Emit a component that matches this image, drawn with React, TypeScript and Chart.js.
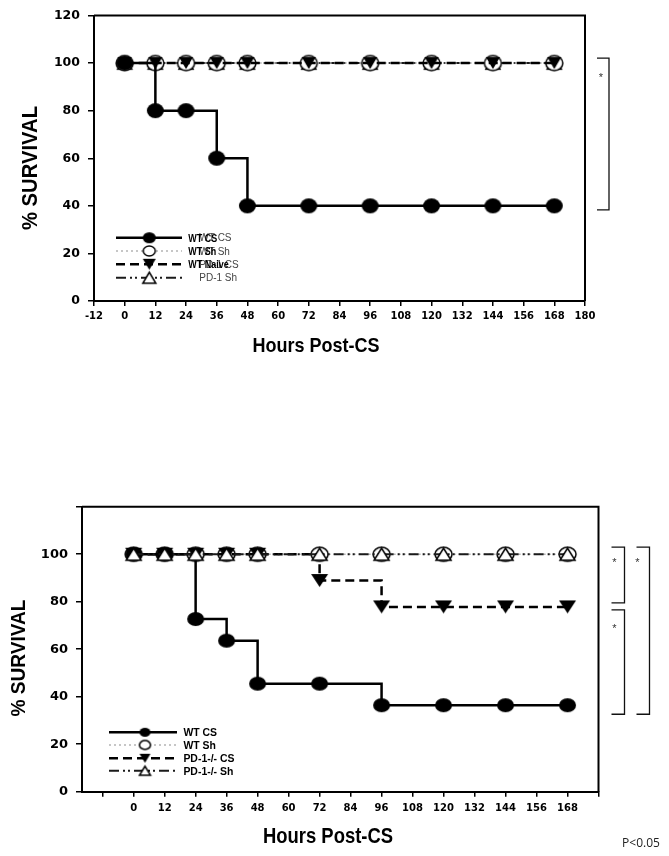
import React, { useEffect, useRef } from 'react';
import { Chart, registerables } from 'chart.js';

Chart.register(...registerables);

// ---------- data ----------
const HOURS = [0, 12, 24, 36, 48, 72, 96, 120, 144, 168];

const TOP_WT_CS = [100, 80, 80, 60, 40, 40, 40, 40, 40, 40];
const TOP_WT_SH = [100, 100, 100, 100, 100, 100, 100, 100, 100, 100];
const TOP_WT_NAIVE = [100, 100, 100, 100, 100, 100, 100, 100, 100, 100];
const TOP_PD1_SH = [100, 100, 100, 100, 100, 100, 100, 100, 100, 100];

const BOT_WT_CS = [100, 100, 72.7, 63.6, 45.5, 45.5, 36.4, 36.4, 36.4, 36.4];
const BOT_WT_SH = [100, 100, 100, 100, 100, 100, 100, 100, 100, 100];
const BOT_PD1_CS = [100, 100, 100, 100, 100, 88.9, 77.8, 77.8, 77.8, 77.8];
const BOT_PD1_SH = [100, 100, 100, 100, 100, 100, 100, 100, 100, 100];

const TOP_X_TICKS = [-12, 0, 12, 24, 36, 48, 60, 72, 84, 96, 108, 120, 132, 144, 156, 168, 180];
const TOP_X_LABELED = [-12, 0, 12, 24, 36, 48, 60, 72, 84, 96, 108, 120, 132, 144, 156, 168, 180];
const BOT_X_TICKS = [-12, 0, 12, 24, 36, 48, 60, 72, 84, 96, 108, 120, 132, 144, 156, 168, 180];
const BOT_X_LABELED = [0, 12, 24, 36, 48, 60, 72, 84, 96, 108, 120, 132, 144, 156, 168];
const Y_TICKS = [0, 20, 40, 60, 80, 100, 120];
const TOP_Y_LABELED = [0, 20, 40, 60, 80, 100, 120];
const BOT_Y_LABELED = [0, 20, 40, 60, 80, 100];

const TOP_LEGEND_BOLD = ['WT CS', 'WT Sh', 'WT Naive', ''];
const TOP_LEGEND_SMALL = ['WT CS', 'WT Sh', 'PD-1 CS', 'PD-1 Sh'];
const BOT_LEGEND = ['WT CS', 'WT Sh', 'PD-1-/- CS', 'PD-1-/- Sh'];

// ---------- styles ----------
const LINE = {
  solid: { color: '#000', width: 2.5, dash: [] as number[] },
  dotted: { color: '#b4b4b4', width: 1.5, dash: [2, 3] },
  dashed: { color: '#000', width: 2.5, dash: [9, 5] },
  dashdot: { color: '#1a1a1a', width: 2, dash: [10, 4, 2, 3, 2, 4] },
};

const FONT = '"Liberation Sans", Arial, sans-serif';
const TICK_FONT = '"DejaVu Sans", sans-serif';

function marker(kind: string, w: number, h: number, lw = 1.5) {
  const pad = 2;
  const c = document.createElement('canvas');
  c.width = Math.ceil(w + pad * 2);
  c.height = Math.ceil(h + pad * 2);
  const ctx = c.getContext('2d')!;
  const cx = c.width / 2;
  const cy = c.height / 2;
  ctx.beginPath();
  if (kind === 'dot' || kind === 'ring') {
    ctx.ellipse(cx, cy, w / 2, h / 2, 0, 0, Math.PI * 2);
  } else if (kind === 'down') {
    ctx.moveTo(cx - w / 2, cy - h / 2);
    ctx.lineTo(cx + w / 2, cy - h / 2);
    ctx.lineTo(cx, cy + h / 2);
    ctx.closePath();
  } else {
    ctx.moveTo(cx - w / 2, cy + h / 2);
    ctx.lineTo(cx + w / 2, cy + h / 2);
    ctx.lineTo(cx, cy - h / 2);
    ctx.closePath();
  }
  if (kind === 'dot' || kind === 'down') {
    ctx.fillStyle = '#000';
    ctx.fill();
  } else {
    ctx.fillStyle = '#fff';
    ctx.fill();
    ctx.lineWidth = lw;
    ctx.strokeStyle = '#000';
    ctx.stroke();
  }
  return c;
}

function drawText(
  ctx: CanvasRenderingContext2D,
  text: string,
  x: number,
  y: number,
  size: number,
  opts: { bold?: boolean; width?: number; sx?: number; rotate?: boolean; align?: 'left' | 'center'; color?: string; family?: string } = {}
) {
  ctx.save();
  ctx.font = `${opts.bold === false ? '' : 'bold '}${size}px ${opts.family || FONT}`;
  const w = ctx.measureText(text).width;
  const sx = opts.width ? opts.width / w : opts.sx || 1;
  ctx.translate(x, y);
  if (opts.rotate) ctx.rotate(-Math.PI / 2);
  ctx.scale(sx, 1);
  ctx.fillStyle = opts.color || '#000';
  ctx.textAlign = opts.align || 'center';
  ctx.textBaseline = 'alphabetic';
  ctx.fillText(text, 0, size * 0.716 / 2);
  ctx.restore();
}

function legendRow(ctx: CanvasRenderingContext2D, x0: number, x1: number, mx: number, y: number, st: any, img: HTMLCanvasElement) {
  ctx.save();
  ctx.setLineDash(st.dash);
  ctx.strokeStyle = st.color;
  ctx.lineWidth = st.width;
  ctx.beginPath();
  ctx.moveTo(x0, y);
  ctx.lineTo(x1, y);
  ctx.stroke();
  ctx.restore();
  ctx.drawImage(img, mx - img.width / 2, y - img.height / 2);
}

function bracket(ctx: CanvasRenderingContext2D, xArm: number, xV: number, y0: number, y1: number) {
  ctx.save();
  ctx.strokeStyle = '#111';
  ctx.lineWidth = 1.3;
  ctx.beginPath();
  ctx.moveTo(xArm, y0);
  ctx.lineTo(xV, y0);
  ctx.lineTo(xV, y1);
  ctx.lineTo(xArm, y1);
  ctx.stroke();
  ctx.restore();
}

function star(ctx: CanvasRenderingContext2D, x: number, y: number) {
  drawText(ctx, '*', x, y + 2, 11, { bold: false, color: '#333' });
}

function boxPlugin(id: string) {
  return {
    id,
    beforeDatasetsDraw(chart: any) {
      const { ctx, chartArea: a } = chart;
      ctx.save();
      ctx.strokeStyle = '#000';
      ctx.lineWidth = 2;
      ctx.beginPath();
      ctx.moveTo(a.left, a.top);
      ctx.lineTo(a.right, a.top);
      ctx.lineTo(a.right, a.bottom);
      ctx.stroke();
      ctx.restore();
    },
  };
}

function xScale(ticks: number[], labeled: number[], min: number, max: number, height: number, size: number, pad: number) {
  return {
    type: 'linear',
    min,
    max,
    afterBuildTicks: (s: any) => {
      s.ticks = ticks.map((v) => ({ value: v }));
    },
    afterFit: (s: any) => {
      s.height = height;
    },
    ticks: {
      autoSkip: false,
      maxRotation: 0,
      minRotation: 0,
      padding: pad,
      color: '#000',
      font: { family: TICK_FONT, weight: 'bold', size },
      callback: (v: number) => (labeled.includes(v) ? String(v) : ''),
    },
    grid: { display: true, drawOnChartArea: false, drawTicks: true, tickLength: 5, color: '#000', lineWidth: 1.5 },
    border: { display: true, color: '#000', width: 2 },
  };
}

function yScale(labeled: number[], width: number, size: number) {
  return {
    type: 'linear',
    min: 0,
    max: 120,
    afterBuildTicks: (s: any) => {
      s.ticks = Y_TICKS.map((v) => ({ value: v }));
    },
    afterFit: (s: any) => {
      s.width = width;
    },
    ticks: {
      padding: 8,
      color: '#000',
      font: { family: TICK_FONT, weight: 'bold', size },
      callback: (v: number) => (labeled.includes(v) ? String(v) : ''),
    },
    grid: { display: true, drawOnChartArea: false, drawTicks: true, tickLength: 6, color: '#000', lineWidth: 1.5 },
    border: { display: true, color: '#000', width: 2 },
  };
}

function ds(label: string, ys: number[], st: any, img: HTMLCanvasElement, order: number) {
  return {
    label,
    data: HOURS.map((h, i) => ({ x: h, y: ys[i] })),
    borderColor: st.color,
    backgroundColor: st.color,
    borderWidth: st.width,
    borderDash: st.dash,
    stepped: 'before',
    pointStyle: img,
    pointRadius: 8,
    pointHoverRadius: 8,
    fill: false,
    order,
    clip: false,
  };
}

export default function App() {
  const topRef = useRef<HTMLCanvasElement>(null);
  const botRef = useRef<HTMLCanvasElement>(null);

  useEffect(() => {
    const M = {
      tDot: marker('dot', 17, 15),
      tRing: marker('ring', 17, 15),
      tDown: marker('down', 14, 12),
      tUp: marker('up', 14, 12),
      bDot: marker('dot', 17, 14),
      bRing: marker('ring', 17, 14),
      bDown: marker('down', 17, 13),
      bUp: marker('up', 15, 12),
      lgTDot: marker('dot', 13, 11),
      lgTRing: marker('ring', 12, 10),
      lgTDown: marker('down', 13, 11),
      lgTUp: marker('up', 13, 11),
      lgBDot: marker('dot', 11, 9),
      lgBRing: marker('ring', 11, 9),
      lgBDown: marker('down', 11, 9),
      lgBUp: marker('up', 11, 9),
    };

    const topDecor = {
      id: 'topDecor',
      afterDraw(chart: any) {
        const { ctx, chartArea: a, scales } = chart;
        const y = scales.y;
        drawText(ctx, '% SURVIVAL', 29.5, 168, 22, { width: 124, rotate: true });
        drawText(ctx, 'Hours Post-CS', 316, 344, 21, { width: 127 });
        // legend
        const rows = [237.7, 251, 264.3, 277.7];
        const styles = [LINE.solid, LINE.dotted, LINE.dashed, LINE.dashdot];
        const imgs = [M.lgTDot, M.lgTRing, M.lgTDown, M.lgTUp];
        rows.forEach((ry, i) => {
          legendRow(ctx, 116, 182, 149.3, ry, styles[i], imgs[i]);
          drawText(ctx, TOP_LEGEND_SMALL[i], 199.3, ry, 10, { bold: false, align: 'left', color: '#444' });
          if (TOP_LEGEND_BOLD[i]) drawText(ctx, TOP_LEGEND_BOLD[i], 188.3, ry, 11.5, { align: 'left', sx: 0.78 });
        });
        // bracket
        const y0 = y.getPixelForValue(100) - 5;
        const y1 = y.getPixelForValue(40) + 4;
        bracket(ctx, a.right + 12, a.right + 24, y0, y1);
        star(ctx, a.right + 16, y.getPixelForValue(100) + 12);
      },
    };

    const botDecor = {
      id: 'botDecor',
      afterDraw(chart: any) {
        const { ctx, chartArea: a, scales } = chart;
        const y = scales.y;
        drawText(ctx, '% SURVIVAL', 17, 258, 21, { width: 117, rotate: true });
        drawText(ctx, 'Hours Post-CS', 328, 435.5, 22, { width: 130 });
        drawText(ctx, 'P<0.05', 641, 443, 12, { bold: false, color: '#222', family: '"Open Sans", "Noto Sans", sans-serif' });
        const rows = [332.3, 345, 358.3, 370.7];
        const styles = [LINE.solid, LINE.dotted, LINE.dashed, LINE.dashdot];
        const imgs = [M.lgBDot, M.lgBRing, M.lgBDown, M.lgBUp];
        rows.forEach((ry, i) => {
          legendRow(ctx, 109, 177, 145, ry, styles[i], imgs[i]);
          drawText(ctx, BOT_LEGEND[i], 183.4, ry, 11, { align: 'left', sx: 0.95 });
        });
        const y100 = y.getPixelForValue(100);
        const y78 = y.getPixelForValue(77.8);
        const y36 = y.getPixelForValue(36.4);
        bracket(ctx, a.right + 13, a.right + 26, y100 - 7, y78 - 4);
        bracket(ctx, a.right + 13, a.right + 26, y78 + 3, y36 + 9);
        bracket(ctx, a.right + 38, a.right + 51, y100 - 7, y36 + 9);
        star(ctx, a.right + 16, y100 + 6);
        star(ctx, a.right + 16, y78 + 19);
        star(ctx, a.right + 39, y100 + 6);
      },
    };

    const top = new Chart(topRef.current!, {
      type: 'line',
      data: {
        datasets: [
          ds('WT CS', TOP_WT_CS, LINE.solid, M.tDot, 0),
          ds('WT Sh', TOP_WT_SH, LINE.dotted, M.tRing, 2),
          ds('WT Naive', TOP_WT_NAIVE, LINE.dashed, M.tDown, 1),
          ds('PD-1 Sh', TOP_PD1_SH, LINE.dashdot, M.tUp, 3),
        ],
      } as any,
      options: {
        animation: false,
        responsive: false,
        maintainAspectRatio: false,
        layout: { padding: { left: 0, top: 14, right: 84, bottom: 0 } },
        plugins: { legend: { display: false }, tooltip: { enabled: false }, title: { display: false } },
        scales: {
          x: xScale(TOP_X_TICKS, TOP_X_LABELED, -12, 180, 99, 10, 4),
          y: yScale(TOP_Y_LABELED, 94, 12.5),
        } as any,
      },
      plugins: [boxPlugin('topBox'), topDecor],
    } as any);

    const bot = new Chart(botRef.current!, {
      type: 'line',
      data: {
        datasets: [
          ds('WT CS', BOT_WT_CS, LINE.solid, M.bDot, 2),
          ds('WT Sh', BOT_WT_SH, LINE.dotted, M.bRing, 3),
          ds('PD-1-/- CS', BOT_PD1_CS, LINE.dashed, M.bDown, 1),
          ds('PD-1-/- Sh', BOT_PD1_SH, LINE.dashdot, M.bUp, 0),
        ],
      } as any,
      options: {
        animation: false,
        responsive: false,
        maintainAspectRatio: false,
        layout: { padding: { left: 0, top: 106.7, right: 70.5, bottom: 0 } },
        plugins: { legend: { display: false }, tooltip: { enabled: false }, title: { display: false } },
        scales: {
          x: xScale(BOT_X_TICKS, BOT_X_LABELED, -20, 180, 64.3, 10, 6),
          y: yScale(BOT_Y_LABELED, 82, 13),
        } as any,
      },
      plugins: [boxPlugin('botBox'), botDecor],
    } as any);

    return () => {
      top.destroy();
      bot.destroy();
    };
  }, []);

  return (
    <div style={{ position: 'absolute', left: 0, top: 0, width: 669, height: 856, background: '#fff' }}>
      <canvas
        ref={topRef}
        width={669}
        height={400}
        style={{ position: 'absolute', left: 0, top: 0, width: 669, height: 400 }}
      />
      <canvas
        ref={botRef}
        width={669}
        height={456}
        style={{ position: 'absolute', left: 0, top: 400, width: 669, height: 456 }}
      />
    </div>
  );
}
